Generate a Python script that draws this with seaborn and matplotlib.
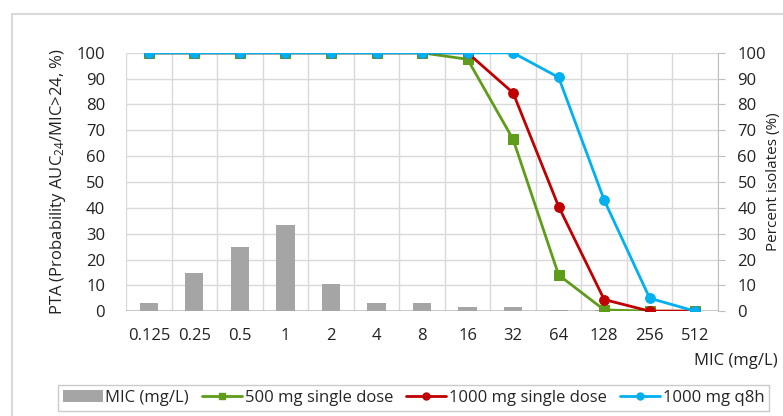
import matplotlib
matplotlib.use('Agg')
import matplotlib.pyplot as plt
import seaborn as sns
import numpy as np
from matplotlib.patches import Rectangle, Patch
from matplotlib.lines import Line2D

# Data
mic_labels = ['0.125', '0.25', '0.5', '1', '2', '4', '8', '16', '32', '64', '128', '256', '512']
isolates_pct = [3.1, 14.7, 24.8, 33.3, 10.5, 3.2, 3.0, 1.8, 1.5, 0.6, 0.3, 0.2, 0.0]
pta_500_single = [100, 100, 100, 100, 100, 100, 100, 97.5, 66.5, 14.0, 0.5, 0.0, 0.0]
pta_1000_single = [100, 100, 100, 100, 100, 100, 100, 100, 84.5, 40.5, 4.5, 0.0, 0.0]
pta_1000_q8h = [100, 100, 100, 100, 100, 100, 100, 100, 100, 90.5, 43.0, 5.0, 0.0]

series_names = ['500 mg single dose', '1000 mg single dose', '1000 mg q8h']
series_colors = ['#5e9c1a', '#c00000', '#00b0f0']
series_markers = ['s', 'o', 'o']
bar_color = '#a5a5a5'
grid_color = '#d9d9d9'
txt = '#222222'
fs = 12

sns.set_style('white')
plt.rcParams['font.family'] = ['Open Sans', 'DejaVu Sans']
plt.rcParams['mathtext.default'] = 'regular'

fig = plt.figure(figsize=(7.83, 4.16), dpi=100)
ax = fig.add_axes([0.161, 0.252, 0.756, 0.621])
ax2 = ax.twinx()

x = np.arange(len(mic_labels))

# bars on the right axis
sns.barplot(x=x, y=isolates_pct, ax=ax2, color=bar_color, width=0.4,
            saturation=1, edgecolor='none', zorder=3)

# PTA curves on the left axis
for vals, name, col, mk in zip([pta_500_single, pta_1000_single, pta_1000_q8h],
                               series_names, series_colors, series_markers):
    sns.lineplot(x=x, y=vals, ax=ax, color=col, marker=mk, markersize=7,
                 markeredgecolor=col, linewidth=2, label=name, legend=False)

ax.set_zorder(ax2.get_zorder() + 1)
ax.patch.set_visible(False)

for a in (ax, ax2):
    a.set_xlim(-0.5, len(mic_labels) - 0.5)
    a.set_ylim(0, 100)
    a.set_yticks(range(0, 101, 10))
    for s in a.spines.values():
        s.set_visible(False)

# grid lines drawn on the bar axis (back layer)
ax2.vlines(np.append(x - 0.5, len(mic_labels) - 0.5), 0, 100,
           color=grid_color, linewidth=1, zorder=1)
ax2.hlines(range(10, 101, 10), -0.5, len(mic_labels) - 0.5,
           color=grid_color, linewidth=1, zorder=1)
ax2.axhline(0, color='#bfbfbf', linewidth=1.2, zorder=2)
ax2.spines['right'].set_visible(True)
ax2.spines['right'].set_color('#bfbfbf')

ax.set_xticks(x)
ax.set_xticklabels(mic_labels)
ax.tick_params(axis='y', length=0, labelsize=fs, colors=txt, pad=15)
ax.tick_params(axis='x', length=0, labelsize=fs, colors=txt, pad=12)
ax2.tick_params(axis='y', length=5, color='#bfbfbf', labelsize=fs,
                labelcolor=txt, pad=9, direction='out')

ax.set_ylabel('PTA (Probability AUC$_{24}$/MIC>24, %)', fontsize=fs,
              color=txt, labelpad=6)
ax2.set_ylabel('Percent isolates (%)', fontsize=11, color=txt,
               ha='center', va='center')
ax2.yaxis.set_label_coords(1.093, 0.5)
ax.set_xlabel('')
fig.text(0.993, 0.132, 'MIC (mg/L)', ha='right', va='center', fontsize=fs,
         color=txt)

# legend
handles = [Patch(facecolor=bar_color, edgecolor='none', label='MIC (mg/L)')]
for name, col, mk in zip(series_names, series_colors, series_markers):
    handles.append(Line2D([0], [0], color=col, marker=mk, markersize=5,
                          linewidth=2, label=name))
leg = fig.legend(handles=handles, loc='center', bbox_to_anchor=(0.528, 0.044),
                 ncol=4, frameon=True, fontsize=fs, handlelength=2.4,
                 handletextpad=0.15, columnspacing=0.8, fancybox=False,
                 borderpad=0.3)
leg.get_frame().set_edgecolor('#bfbfbf')
leg.get_frame().set_linewidth(1)

# outer chart border
fig.patches.append(Rectangle((12 / 783, -0.01), 1.0, 1 - 14 / 416 + 0.01,
                             transform=fig.transFigure, fill=False,
                             edgecolor='#d9d9d9', linewidth=1.5))

fig.savefig('out.png', dpi=100)
